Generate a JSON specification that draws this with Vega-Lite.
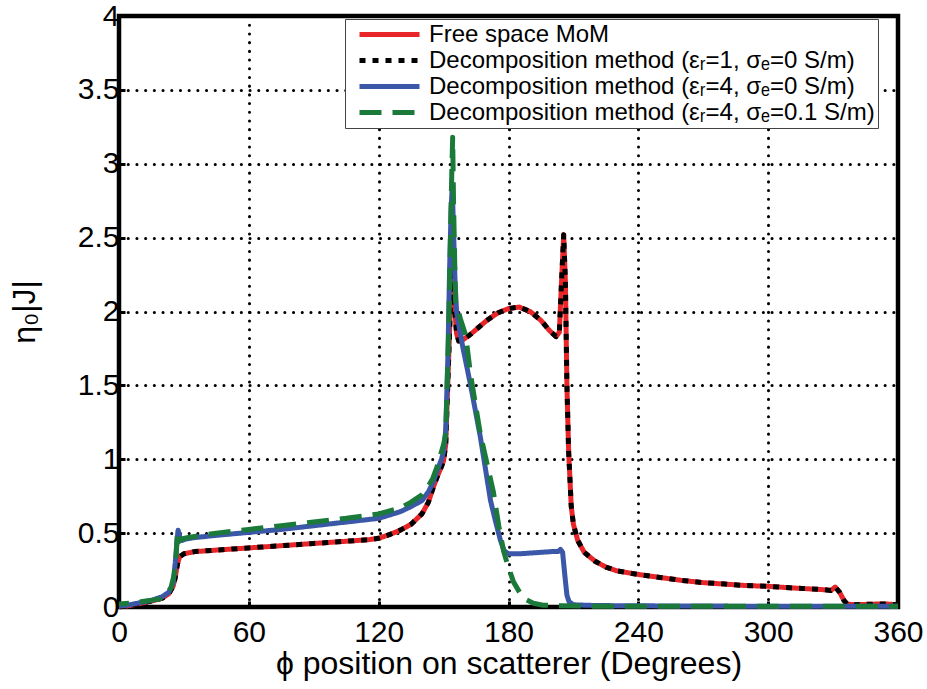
{
  "$schema": "https://vega.github.io/schema/vega-lite/v6.json",
  "width": 779,
  "height": 591,
  "padding": {"left": 8, "top": 1, "right": 5, "bottom": 5},
  "background": "white",
  "data": {"values": [
    {"s":"Free space MoM","phi":0,"J":0.0},{"s":"Free space MoM","phi":5,"J":0.01},{"s":"Free space MoM","phi":10,"J":0.025},{"s":"Free space MoM","phi":15,"J":0.04},{"s":"Free space MoM","phi":20,"J":0.06},{"s":"Free space MoM","phi":23,"J":0.09},{"s":"Free space MoM","phi":25,"J":0.14},{"s":"Free space MoM","phi":26,"J":0.2},{"s":"Free space MoM","phi":27,"J":0.29},{"s":"Free space MoM","phi":28,"J":0.34},{"s":"Free space MoM","phi":30,"J":0.36},{"s":"Free space MoM","phi":35,"J":0.375},{"s":"Free space MoM","phi":45,"J":0.385},{"s":"Free space MoM","phi":60,"J":0.4},{"s":"Free space MoM","phi":75,"J":0.415},{"s":"Free space MoM","phi":90,"J":0.43},{"s":"Free space MoM","phi":105,"J":0.445},{"s":"Free space MoM","phi":115,"J":0.455},{"s":"Free space MoM","phi":120,"J":0.465},{"s":"Free space MoM","phi":125,"J":0.49},{"s":"Free space MoM","phi":130,"J":0.52},{"s":"Free space MoM","phi":135,"J":0.56},{"s":"Free space MoM","phi":140,"J":0.63},{"s":"Free space MoM","phi":143,"J":0.71},{"s":"Free space MoM","phi":145,"J":0.8},{"s":"Free space MoM","phi":147,"J":0.88},{"s":"Free space MoM","phi":149,"J":0.95},{"s":"Free space MoM","phi":150,"J":0.99},{"s":"Free space MoM","phi":151,"J":1.1},{"s":"Free space MoM","phi":151.8,"J":1.45},{"s":"Free space MoM","phi":152.5,"J":1.75},{"s":"Free space MoM","phi":153.2,"J":2.05},{"s":"Free space MoM","phi":154,"J":2.3},{"s":"Free space MoM","phi":155,"J":2.05},{"s":"Free space MoM","phi":156,"J":1.85},{"s":"Free space MoM","phi":157,"J":1.8},{"s":"Free space MoM","phi":159,"J":1.81},{"s":"Free space MoM","phi":162,"J":1.84},{"s":"Free space MoM","phi":166,"J":1.89},{"s":"Free space MoM","phi":170,"J":1.94},{"s":"Free space MoM","phi":175,"J":1.99},{"s":"Free space MoM","phi":180,"J":2.02},{"s":"Free space MoM","phi":185,"J":2.03},{"s":"Free space MoM","phi":190,"J":2.0},{"s":"Free space MoM","phi":195,"J":1.94},{"s":"Free space MoM","phi":199,"J":1.87},{"s":"Free space MoM","phi":202,"J":1.83},{"s":"Free space MoM","phi":203.5,"J":1.86},{"s":"Free space MoM","phi":204.5,"J":2.2},{"s":"Free space MoM","phi":205.5,"J":2.52},{"s":"Free space MoM","phi":206.3,"J":2.2},{"s":"Free space MoM","phi":207,"J":1.5},{"s":"Free space MoM","phi":207.8,"J":1.05},{"s":"Free space MoM","phi":209,"J":0.68},{"s":"Free space MoM","phi":210,"J":0.56},{"s":"Free space MoM","phi":212,"J":0.45},{"s":"Free space MoM","phi":215,"J":0.37},{"s":"Free space MoM","phi":220,"J":0.31},{"s":"Free space MoM","phi":225,"J":0.27},{"s":"Free space MoM","phi":230,"J":0.245},{"s":"Free space MoM","phi":240,"J":0.22},{"s":"Free space MoM","phi":250,"J":0.2},{"s":"Free space MoM","phi":260,"J":0.18},{"s":"Free space MoM","phi":270,"J":0.165},{"s":"Free space MoM","phi":280,"J":0.155},{"s":"Free space MoM","phi":290,"J":0.145},{"s":"Free space MoM","phi":300,"J":0.14},{"s":"Free space MoM","phi":310,"J":0.13},{"s":"Free space MoM","phi":320,"J":0.122},{"s":"Free space MoM","phi":326,"J":0.117},{"s":"Free space MoM","phi":329,"J":0.112},{"s":"Free space MoM","phi":331,"J":0.135},{"s":"Free space MoM","phi":333,"J":0.1},{"s":"Free space MoM","phi":335,"J":0.045},{"s":"Free space MoM","phi":336.5,"J":0.02},{"s":"Free space MoM","phi":340,"J":0.015},{"s":"Free space MoM","phi":350,"J":0.02},{"s":"Free space MoM","phi":355,"J":0.02},{"s":"Free space MoM","phi":360,"J":0.015},

    {"s":"D1","phi":0,"J":0.0},{"s":"D1","phi":5,"J":0.01},{"s":"D1","phi":10,"J":0.025},{"s":"D1","phi":15,"J":0.04},{"s":"D1","phi":20,"J":0.06},{"s":"D1","phi":23,"J":0.09},{"s":"D1","phi":25,"J":0.14},{"s":"D1","phi":26,"J":0.2},{"s":"D1","phi":27,"J":0.29},{"s":"D1","phi":28,"J":0.34},{"s":"D1","phi":30,"J":0.36},{"s":"D1","phi":35,"J":0.375},{"s":"D1","phi":45,"J":0.385},{"s":"D1","phi":60,"J":0.4},{"s":"D1","phi":75,"J":0.415},{"s":"D1","phi":90,"J":0.43},{"s":"D1","phi":105,"J":0.445},{"s":"D1","phi":115,"J":0.455},{"s":"D1","phi":120,"J":0.465},{"s":"D1","phi":125,"J":0.49},{"s":"D1","phi":130,"J":0.52},{"s":"D1","phi":135,"J":0.56},{"s":"D1","phi":140,"J":0.63},{"s":"D1","phi":143,"J":0.71},{"s":"D1","phi":145,"J":0.8},{"s":"D1","phi":147,"J":0.88},{"s":"D1","phi":149,"J":0.95},{"s":"D1","phi":150,"J":0.99},{"s":"D1","phi":151,"J":1.1},{"s":"D1","phi":151.8,"J":1.45},{"s":"D1","phi":152.5,"J":1.75},{"s":"D1","phi":153.2,"J":2.05},{"s":"D1","phi":154,"J":2.3},{"s":"D1","phi":155,"J":2.05},{"s":"D1","phi":156,"J":1.85},{"s":"D1","phi":157,"J":1.8},{"s":"D1","phi":159,"J":1.81},{"s":"D1","phi":162,"J":1.84},{"s":"D1","phi":166,"J":1.89},{"s":"D1","phi":170,"J":1.94},{"s":"D1","phi":175,"J":1.99},{"s":"D1","phi":180,"J":2.02},{"s":"D1","phi":185,"J":2.03},{"s":"D1","phi":190,"J":2.0},{"s":"D1","phi":195,"J":1.94},{"s":"D1","phi":199,"J":1.87},{"s":"D1","phi":202,"J":1.83},{"s":"D1","phi":203.5,"J":1.86},{"s":"D1","phi":204.5,"J":2.2},{"s":"D1","phi":205.5,"J":2.52},{"s":"D1","phi":206.3,"J":2.2},{"s":"D1","phi":207,"J":1.5},{"s":"D1","phi":207.8,"J":1.05},{"s":"D1","phi":209,"J":0.68},{"s":"D1","phi":210,"J":0.56},{"s":"D1","phi":212,"J":0.45},{"s":"D1","phi":215,"J":0.37},{"s":"D1","phi":220,"J":0.31},{"s":"D1","phi":225,"J":0.27},{"s":"D1","phi":230,"J":0.245},{"s":"D1","phi":240,"J":0.22},{"s":"D1","phi":250,"J":0.2},{"s":"D1","phi":260,"J":0.18},{"s":"D1","phi":270,"J":0.165},{"s":"D1","phi":280,"J":0.155},{"s":"D1","phi":290,"J":0.145},{"s":"D1","phi":300,"J":0.14},{"s":"D1","phi":310,"J":0.13},{"s":"D1","phi":320,"J":0.122},{"s":"D1","phi":326,"J":0.117},{"s":"D1","phi":329,"J":0.112},{"s":"D1","phi":331,"J":0.135},{"s":"D1","phi":333,"J":0.1},{"s":"D1","phi":335,"J":0.045},{"s":"D1","phi":336.5,"J":0.02},{"s":"D1","phi":340,"J":0.015},{"s":"D1","phi":350,"J":0.02},{"s":"D1","phi":355,"J":0.02},{"s":"D1","phi":360,"J":0.015},

    {"s":"D2","phi":0,"J":0.005},{"s":"D2","phi":5,"J":0.015},{"s":"D2","phi":10,"J":0.03},{"s":"D2","phi":15,"J":0.045},{"s":"D2","phi":20,"J":0.07},{"s":"D2","phi":23,"J":0.1},{"s":"D2","phi":25,"J":0.16},{"s":"D2","phi":26,"J":0.3},{"s":"D2","phi":26.8,"J":0.45},{"s":"D2","phi":27.3,"J":0.52},{"s":"D2","phi":28,"J":0.48},{"s":"D2","phi":29,"J":0.45},{"s":"D2","phi":31,"J":0.46},{"s":"D2","phi":35,"J":0.47},{"s":"D2","phi":45,"J":0.485},{"s":"D2","phi":60,"J":0.505},{"s":"D2","phi":75,"J":0.525},{"s":"D2","phi":90,"J":0.55},{"s":"D2","phi":105,"J":0.575},{"s":"D2","phi":120,"J":0.6},{"s":"D2","phi":130,"J":0.645},{"s":"D2","phi":135,"J":0.68},{"s":"D2","phi":140,"J":0.72},{"s":"D2","phi":143,"J":0.78},{"s":"D2","phi":145,"J":0.84},{"s":"D2","phi":147,"J":0.92},{"s":"D2","phi":149,"J":1.0},{"s":"D2","phi":150,"J":1.05},{"s":"D2","phi":151,"J":1.2},{"s":"D2","phi":152,"J":1.7},{"s":"D2","phi":152.8,"J":2.3},{"s":"D2","phi":153.5,"J":2.7},{"s":"D2","phi":154,"J":2.85},{"s":"D2","phi":154.6,"J":2.55},{"s":"D2","phi":155.3,"J":2.2},{"s":"D2","phi":156,"J":2.0},{"s":"D2","phi":156.5,"J":1.95},{"s":"D2","phi":159,"J":1.75},{"s":"D2","phi":162.5,"J":1.5},{"s":"D2","phi":167,"J":1.15},{"s":"D2","phi":171.7,"J":0.72},{"s":"D2","phi":174,"J":0.58},{"s":"D2","phi":176.3,"J":0.45},{"s":"D2","phi":178,"J":0.38},{"s":"D2","phi":180,"J":0.36},{"s":"D2","phi":185,"J":0.36},{"s":"D2","phi":190,"J":0.365},{"s":"D2","phi":195,"J":0.37},{"s":"D2","phi":200,"J":0.375},{"s":"D2","phi":203,"J":0.375},{"s":"D2","phi":204,"J":0.39},{"s":"D2","phi":205,"J":0.37},{"s":"D2","phi":206,"J":0.22},{"s":"D2","phi":207,"J":0.08},{"s":"D2","phi":208,"J":0.035},{"s":"D2","phi":210,"J":0.015},{"s":"D2","phi":220,"J":0.01},{"s":"D2","phi":240,"J":0.008},{"s":"D2","phi":300,"J":0.005},{"s":"D2","phi":360,"J":0.005},

    {"s":"D3","phi":0,"J":0.02},{"s":"D3","phi":5,"J":0.025},{"s":"D3","phi":10,"J":0.035},{"s":"D3","phi":15,"J":0.045},{"s":"D3","phi":19,"J":0.055},{"s":"D3","phi":22,"J":0.09},{"s":"D3","phi":24,"J":0.13},{"s":"D3","phi":25.5,"J":0.22},{"s":"D3","phi":26.3,"J":0.32},{"s":"D3","phi":27,"J":0.5},{"s":"D3","phi":27.5,"J":0.44},{"s":"D3","phi":29,"J":0.46},{"s":"D3","phi":32,"J":0.47},{"s":"D3","phi":45,"J":0.5},{"s":"D3","phi":60,"J":0.525},{"s":"D3","phi":75,"J":0.55},{"s":"D3","phi":90,"J":0.575},{"s":"D3","phi":105,"J":0.6},{"s":"D3","phi":120,"J":0.63},{"s":"D3","phi":130,"J":0.67},{"s":"D3","phi":135,"J":0.71},{"s":"D3","phi":140,"J":0.76},{"s":"D3","phi":143,"J":0.82},{"s":"D3","phi":145,"J":0.87},{"s":"D3","phi":147,"J":0.95},{"s":"D3","phi":149,"J":1.05},{"s":"D3","phi":150,"J":1.1},{"s":"D3","phi":151,"J":1.17},{"s":"D3","phi":152.3,"J":1.84},{"s":"D3","phi":153.2,"J":2.52},{"s":"D3","phi":153.8,"J":2.95},{"s":"D3","phi":154.2,"J":3.18},{"s":"D3","phi":154.6,"J":2.74},{"s":"D3","phi":155.5,"J":2.07},{"s":"D3","phi":157.8,"J":1.95},{"s":"D3","phi":160.2,"J":1.84},{"s":"D3","phi":162.5,"J":1.57},{"s":"D3","phi":167,"J":1.17},{"s":"D3","phi":173,"J":0.78},{"s":"D3","phi":175.5,"J":0.55},{"s":"D3","phi":177.7,"J":0.38},{"s":"D3","phi":179.5,"J":0.29},{"s":"D3","phi":182.3,"J":0.17},{"s":"D3","phi":185.5,"J":0.09},{"s":"D3","phi":188,"J":0.05},{"s":"D3","phi":191.5,"J":0.025},{"s":"D3","phi":196,"J":0.012},{"s":"D3","phi":205,"J":0.008},{"s":"D3","phi":220,"J":0.005},{"s":"D3","phi":360,"J":0.005}
  ]},
  "mark": {"type": "line", "strokeWidth": 5, "clip": false, "strokeJoin": "round", "strokeCap": "butt", "strokeDashOffset": 12},
  "encoding": {
    "x": {
      "field": "phi", "type": "quantitative",
      "scale": {"domain": [0, 360], "nice": false, "zero": false},
      "axis": {"values": [0, 60, 120, 180, 240, 300, 360], "title": "ϕ position on scatterer (Degrees)", "labelFlush": false, "labelAngle": 0, "labelPadding": 16, "titlePadding": 1}
    },
    "y": {
      "field": "J", "type": "quantitative",
      "scale": {"domain": [0, 4], "nice": false},
      "axis": {"values": [0, 0.5, 1, 1.5, 2, 2.5, 3, 3.5, 4], "format": "~g", "title": "η₀|J|", "labelFlush": false, "labelPadding": 6, "titlePadding": 36}
    },
    "color": {
      "field": "s", "type": "nominal",
      "scale": {"domain": ["Free space MoM", "D1", "D2", "D3"], "range": ["#e8262a", "#000000", "#3a57a8", "#1b7a3a"]},
      "legend": {
        "title": null,
        "labelExpr": "datum.value == 'D1' ? 'Decomposition method (εᵣ=1, σₑ=0 S/m)' : datum.value == 'D2' ? 'Decomposition method (εᵣ=4, σₑ=0 S/m)' : datum.value == 'D3' ? 'Decomposition method (εᵣ=4, σₑ=0.1 S/m)' : datum.value"
      }
    },
    "strokeDash": {
      "field": "s", "type": "nominal",
      "scale": {"domain": ["Free space MoM", "D1", "D2", "D3"], "range": [[1, 0], [6, 7], [1, 0], [22, 11]]},
      "legend": {
        "title": null,
        "labelExpr": "datum.value == 'D1' ? 'Decomposition method (εᵣ=1, σₑ=0 S/m)' : datum.value == 'D2' ? 'Decomposition method (εᵣ=4, σₑ=0 S/m)' : datum.value == 'D3' ? 'Decomposition method (εᵣ=4, σₑ=0.1 S/m)' : datum.value"
      }
    }
  },
  "config": {
    "font": "Liberation Sans",
    "view": {"stroke": "black", "strokeWidth": 4.5},
    "axis": {
      "labelFont": "Liberation Sans", "labelFontSize": 30, "labelColor": "black",
      "titleFont": "Liberation Sans", "titleFontSize": 32, "titleFontWeight": "normal", "titleColor": "black",
      "domain": false,
      "grid": true, "gridColor": "black", "gridDash": [0.1, 8.6], "gridWidth": 3, "gridCap": "round", "gridOpacity": 1,
      "ticks": true, "tickColor": "black", "tickSize": -6, "tickWidth": 3
    },
    "legend": {
      "orient": "none", "legendX": 226, "legendY": 3,
      "fillColor": "white", "strokeColor": "#444", "padding": 3,
      "symbolType": "M-3,0H3", "symbolSize": 400, "symbolStrokeWidth": 5, "symbolOffset": 29,
      "labelFont": "Liberation Sans", "labelFontSize": 24, "labelColor": "black", "labelLimit": 600, "labelOffset": 27,
      "rowPadding": 1
    }
  }
}
